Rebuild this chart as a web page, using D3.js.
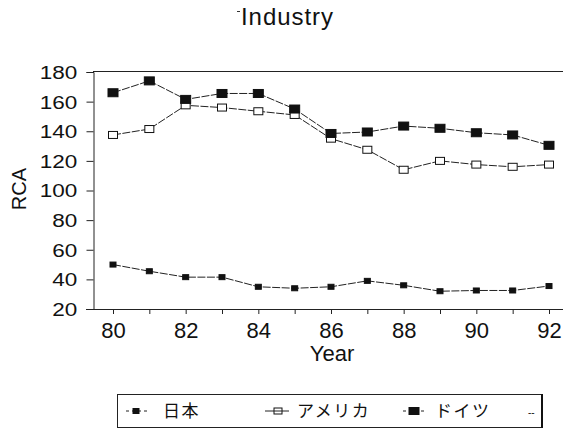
<!DOCTYPE html>
<html>
<head>
<meta charset="utf-8">
<script src="https://cdn.jsdelivr.net/npm/d3@7"></script>
<style>
body{margin:0;background:#fff;}
text{font-family:"Liberation Sans",Arial,sans-serif;fill:#111;}
</style>
</head>
<body>
<div id="chart"></div>
<script>
var years=[80,81,82,83,84,85,86,87,88,89,90,91,92];
var japan=[50,45.5,41.5,41.5,35,34,35,39,36,32,32.5,32.5,35.5];
var usa=[137.5,141.5,157.5,156,153.5,151,135,127.5,114,120,117.5,116,117.5];
var germany=[166,174,161.5,165.5,165.5,155,138.5,139.5,143.5,142,139,137.5,130.5];
var yTicks=[20,40,60,80,100,120,140,160,180];
var xTicks=[80,82,84,86,88,90,92];
var seriesNames=["日本","アメリカ","ドイツ"];

var w=563, h=431;
var svg=d3.select("#chart").append("svg")
    .attr("width",w).attr("height",h);

var xScale=d3.scaleLinear().domain([80,92]).range([113,549]);
var yScale=d3.scaleLinear().domain([20,180]).range([309,72]);

// title
svg.append("text").attr("x",241).attr("y",25)
    .attr("textLength",92).style("font-size","24px")
    .text("Industry");
svg.append("line").attr("x1",237).attr("x2",240).attr("y1",11.5).attr("y2",11.5)
    .style("stroke","#333");

// frame: top line
svg.append("line").attr("x1",93).attr("x2",563).attr("y1",71.5).attr("y2",71.5)
    .style("stroke","#222").style("stroke-width",1.2);

var yAxis=d3.axisLeft(yScale).tickValues(yTicks).tickSize(7).tickPadding(6);
var gy=svg.append("g").attr("transform","translate(93.5,0)").call(yAxis);
gy.selectAll("text").style("font-size","18px").attr("dy","0.36em")
    .attr("transform","scale(1.25,1)");

var xAxis=d3.axisBottom(xScale).tickValues(years).tickSize(5).tickPadding(8)
    .tickFormat(function(d){return xTicks.indexOf(d)>=0?d:"";});
var gx=svg.append("g").attr("transform","translate(0,309)").call(xAxis);
gx.select(".domain").attr("d","M86,0.5H563");
gx.selectAll("text").style("font-size","22px");
gy.selectAll("path,line").style("stroke","#222");
gx.selectAll("path,line").style("stroke","#222");

svg.append("text").attr("x",26).attr("y",189)
    .attr("transform","rotate(-90,26,189)")
    .attr("text-anchor","middle").style("font-size","20px").text("RCA");
svg.append("text").attr("x",332).attr("y",361)
    .attr("text-anchor","middle").style("font-size","22px").text("Year");

var line=d3.line()
    .x(function(d,i){return xScale(years[i]);})
    .y(function(d){return yScale(d);});

function drawSeries(data,size,fill){
    svg.append("path").datum(data).attr("d",line)
        .style("fill","none").style("stroke","#222").style("stroke-width",1)
        .style("stroke-dasharray","8,1.5");
    svg.selectAll(null).data(data).enter().append("rect")
        .attr("x",function(d,i){return xScale(years[i])-size[0]/2;})
        .attr("y",function(d){return yScale(d)-size[1]/2;})
        .attr("width",size[0]).attr("height",size[1])
        .style("fill",fill).style("stroke","#111").style("stroke-width",1);
}
drawSeries(japan,[6,5],"#111");
drawSeries(usa,[9,7],"#fff");
drawSeries(germany,[10,8],"#111");

// legend
var lg=svg.append("g");
lg.append("rect").attr("x",117.5).attr("y",394.5).attr("width",424).attr("height",33)
    .style("fill","none").style("stroke","#222").style("stroke-width",1);
lg.append("line").attr("x1",542).attr("x2",542).attr("y1",394).attr("y2",428)
    .style("stroke","#111").style("stroke-width",2);

var legendLine=[[126,147],[265,289],[403,425]];
var legendCenter=[136,278,414];
var legendSize=[[6,5],[8,6],[10,7]];
var legendFill=["#111","#fff","#111"];
var textX=[163,297,435];
seriesNames.forEach(function(name,i){
    var y=411;
    lg.append("line").attr("x1",legendLine[i][0]).attr("x2",legendLine[i][1])
        .attr("y1",y).attr("y2",y).style("stroke","#222").style("stroke-width",1)
        .style("stroke-dasharray",i==1?null:"3,3");
    var s=legendSize[i];
    lg.append("rect").attr("x",legendCenter[i]-s[0]/2).attr("y",y-s[1]/2)
        .attr("width",s[0]).attr("height",s[1])
        .style("fill",legendFill[i]).style("stroke","#111");
    if(i==1){
        lg.append("line").attr("x1",legendCenter[i]-4).attr("x2",legendCenter[i]+4)
            .attr("y1",y).attr("y2",y).style("stroke","#222");
    }
    lg.append("text").attr("x",textX[i]).attr("y",y+6)
        .style("font-family","'Noto Sans CJK JP',sans-serif")
        .style("font-size","17px").style("letter-spacing","1.5px").text(name);
});
lg.append("text").attr("x",528).attr("y",416).style("font-size","10px").text("--");
</script>
</body>
</html>
